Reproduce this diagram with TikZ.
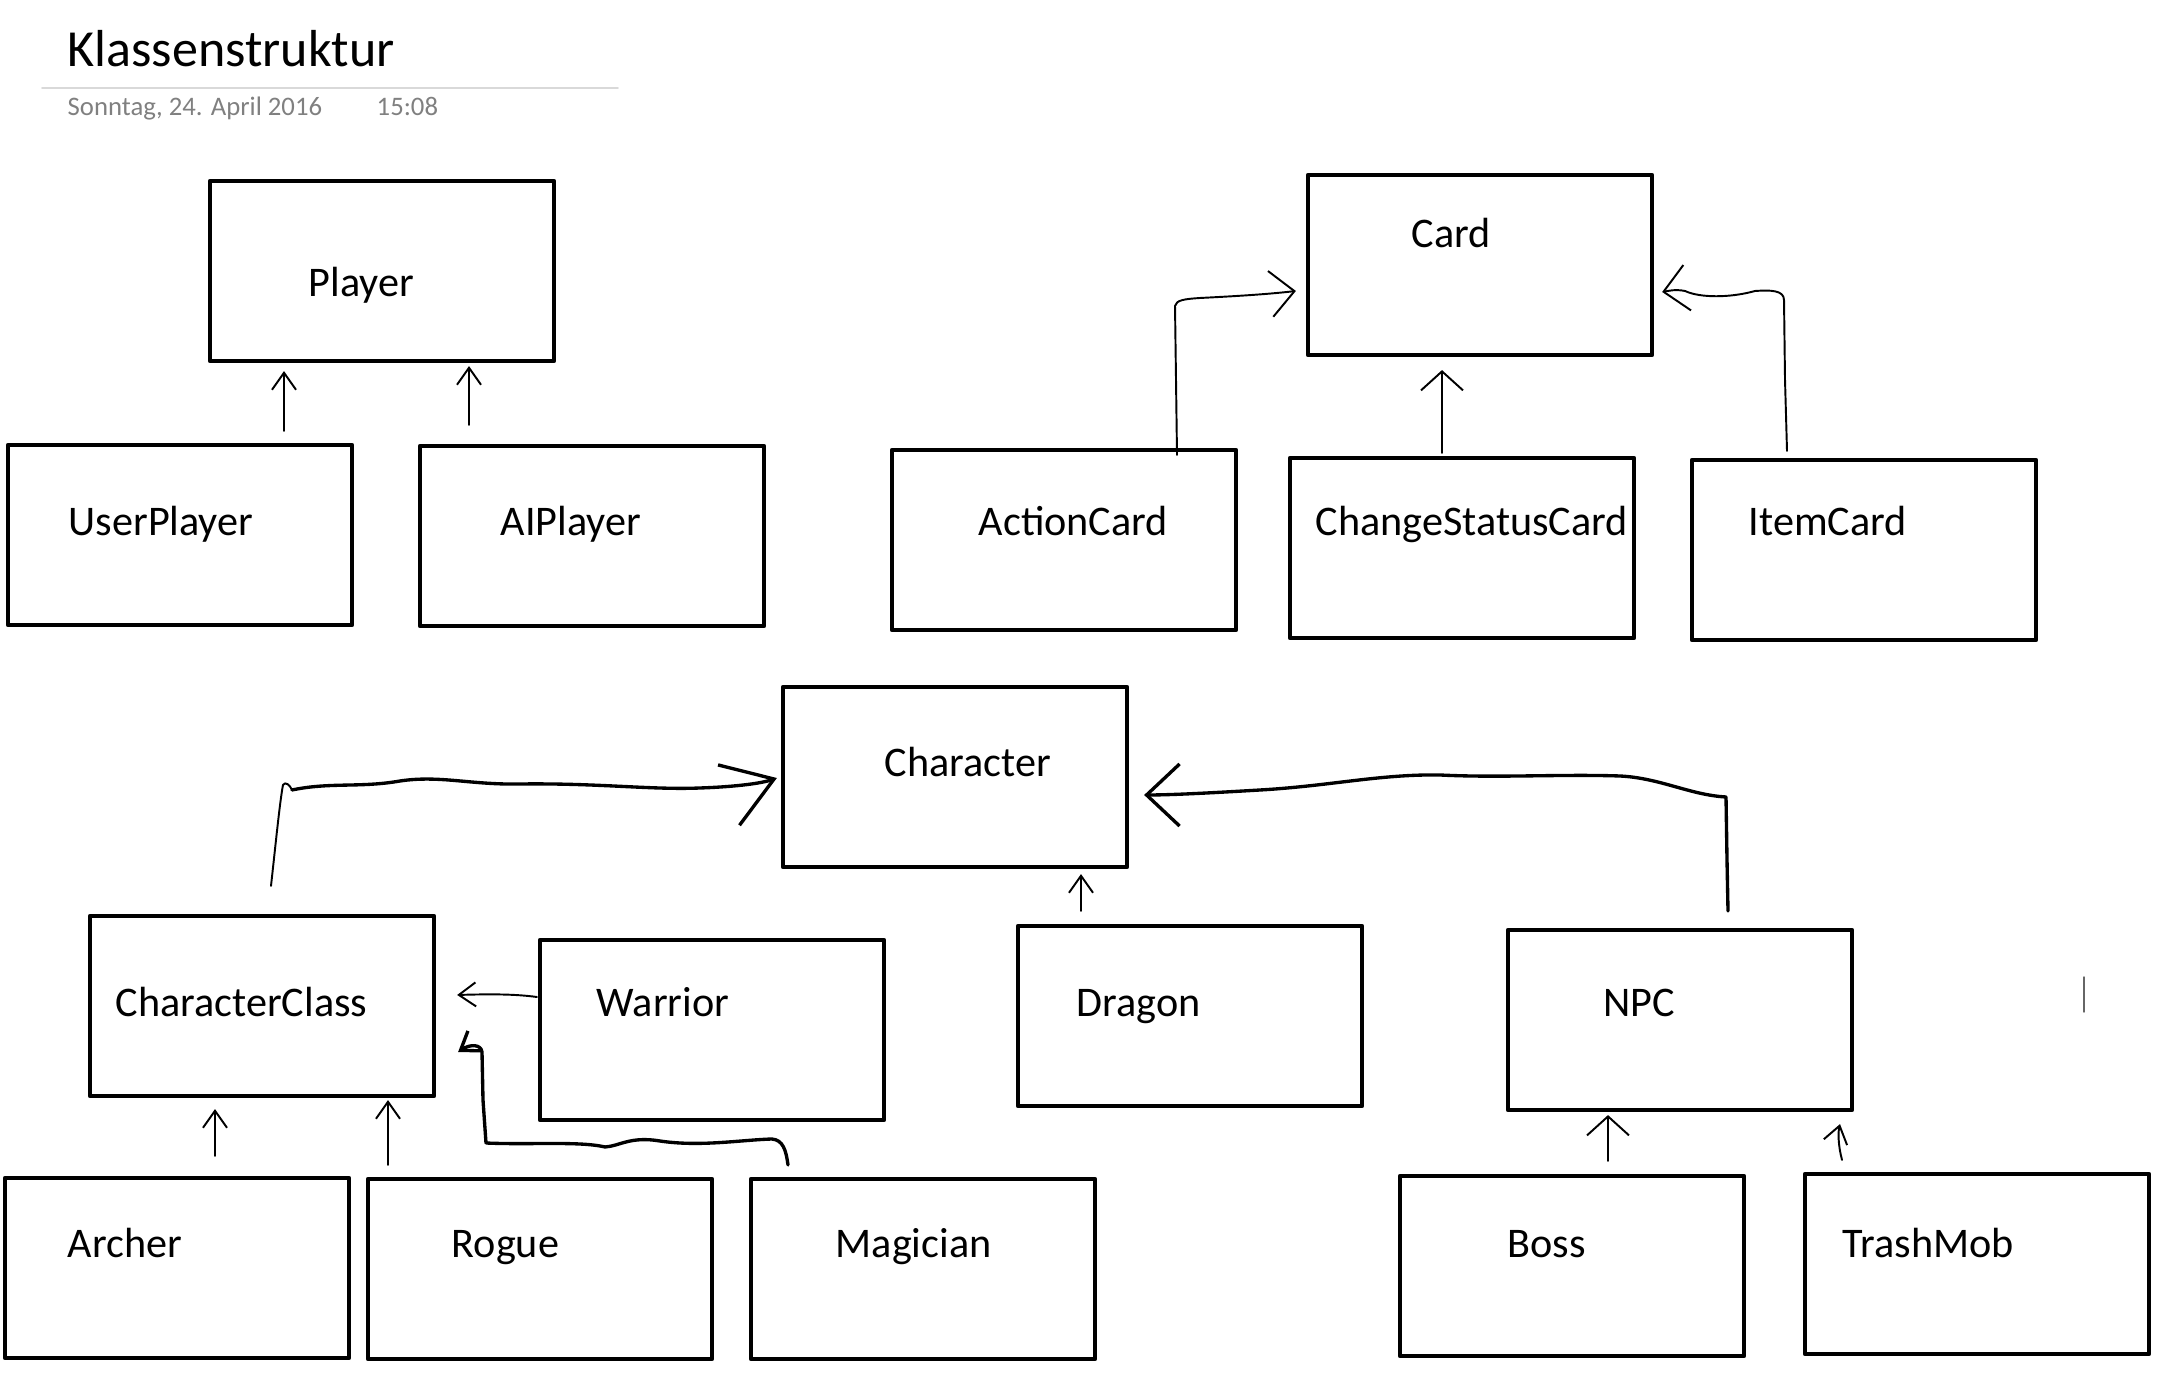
\documentclass[tikz,border=0pt]{standalone}
\usepackage{fontspec}
\setmainfont{Carlito}
\usetikzlibrary{%
  arrows.meta,%
  calc,%
  positioning%
}

\begin{document}
\begin{tikzpicture}[
  x=0.01cm, y=-0.01cm,
  line cap=round, line join=round,
  klasse/.style={draw, line width=1.15pt, minimum width=3.44cm, minimum height=1.8cm, inner sep=0pt},
  klname/.style={anchor=base west, inner sep=0pt, font=\fontsize{12}{14}\selectfont},
  datum/.style={anchor=base west, inner sep=0pt, text=black!50, font=\fontsize{7.6}{9}\selectfont},
  duenn/.style={line width=0.55pt},
  dick/.style={line width=0.95pt},
  sklein/.style={-{Straight Barb[length=1.7mm,width=2.4mm]}},
  smittel/.style={-{Straight Barb[length=1.9mm,width=4.2mm]}},
  sgross/.style={-{Straight Barb[length=2.4mm,width=4.6mm]}},
]
\useasboundingbox (0,0) rectangle (2182,1380);

% Kopf
\node[anchor=base west, inner sep=0pt, font=\fontsize{14.8}{17}\selectfont] (titel) at (67,67) {Klassenstruktur};
\draw[line width=0.5pt, black!15] (42,88) -- (618,88);
\node[datum] (datum) at (67,116) {Sonntag, 24. April 2016};
\node[datum] (zeit) at (376,116) {15:08};

% Player
\node[klasse] (player) at (382,271) {};
\node[klasse] (userplayer) at (180,535) {};
\node[klasse] (aiplayer) at (592,536) {};
\node[klname] (player-t) at (308,297) {Player};
\node[klname] (userplayer-t) at (68,536) {UserPlayer};
\node[klname] (aiplayer-t) at (500,536) {AIPlayer};

% Card
\node[klasse] (card) at (1480,265) {};
\node[klasse] (actioncard) at (1064,540) {};
\node[klasse] (statuscard) at (1462,548) {};
\node[klasse] (itemcard) at (1864,550) {};
\node[klname] (card-t) at (1411,248) {Card};
\node[klname] (actioncard-t) at (978,536) {ActionCard};
\node[klname] (statuscard-t) at (1315,536) {ChangeStatusCard};
\node[klname] (itemcard-t) at (1748,536) {ItemCard};

% Character
\node[klasse] (character) at (955,777) {};
\node[klasse] (charclass) at (262,1006) {};
\node[klasse] (warrior) at (712,1030) {};
\node[klasse] (dragon) at (1190,1016) {};
\node[klasse] (npc) at (1680,1020) {};
\node[klasse] (archer) at (177,1268) {};
\node[klasse] (rogue) at (540,1269) {};
\node[klasse] (magician) at (923,1269) {};
\node[klasse] (boss) at (1572,1266) {};
\node[klasse] (trashmob) at (1977,1264) {};
\node[klname] (character-t) at (884,777) {Character};
\node[klname] (charclass-t) at (115,1017) {CharacterClass};
\node[klname] (warrior-t) at (596,1017) {Warrior};
\node[klname] (dragon-t) at (1076,1017) {Dragon};
\node[klname] (npc-t) at (1603,1017) {NPC};
\node[klname] (archer-t) at (67,1257) {Archer};
\node[klname] (rogue-t) at (451,1257) {Rogue};
\node[klname] (magician-t) at (835,1257) {Magician};
\node[klname] (boss-t) at (1507,1257) {Boss};
\node[klname] (trashmob-t) at (1842,1257) {TrashMob};

% Pfeile Player
\draw[duenn, sklein] ($(userplayer.north)+(104,-12)$) -- ($(player.south)+(-98,8)$);
\draw[duenn, sklein] ($(aiplayer.north)+(-123,-19)$) -- ($(player.south)+(87,3)$);

% Pfeile Card
\draw[duenn, sgross] ($(actioncard.north)+(113,7)$) -- (1176,380) -- (1175,306)
  .. controls (1176,300) and (1185,299) .. (1200,298)
  .. controls (1240,296) and (1270,294) .. ($(card.west)+(-10,26)$);
\draw[duenn, smittel] ($(statuscard.north)+(-20,-3)$) -- ($(card.south)+(-38,13)$);
\draw[duenn, sgross] ($(itemcard.north)+(-77,-7)$) -- (1785,380) -- (1784,300)
  .. controls (1784,290) and (1770,290) .. (1755,291)
  .. controls (1730,298) and (1700,298) .. (1685,291)
  .. controls (1675,289) and (1668,291) .. ($(card.east)+(8,27)$);

% Pfeile Character
\coordinate (cc-knick) at (292,790);
\draw[duenn] ($(charclass.north)+(9,-28)$) .. controls (275,850) and (280,800) .. (283,785)
  .. controls (285,781) and (290,785) .. (cc-knick);
\draw[dick, -{Straight Barb[length=4.8mm,width=6.4mm]}] (cc-knick)
  .. controls (330,782) and (360,788) .. (400,781)
  .. controls (440,775) and (470,785) .. (520,784)
  .. controls (600,783) and (650,790) .. (700,788)
  .. controls (730,787) and (760,784) .. ($(character.west)+(-4,1)$);
\draw[dick, -{Straight Barb[length=3.3mm,width=6.2mm]}] ($(npc.north)+(48,-17)$) -- (1727,860) -- (1726,797)
  .. controls (1690,795) and (1660,778) .. (1620,776)
  .. controls (1560,774) and (1500,778) .. (1440,775)
  .. controls (1380,774) and (1330,786) .. (1260,790)
  .. controls (1210,793) and (1170,795) .. ($(character.east)+(15,18)$);
\draw[duenn, sklein] ($(dragon.north)+(-109,-13)$) -- ($(character.south)+(126,5)$);

% Pfeile CharacterClass
\draw[duenn, sklein] ($(warrior.west)+(-1,-33)$) .. controls (515,994) and (490,994) .. ($(charclass.east)+(21,-11)$);
\draw[dick, sklein] ($(magician.north)+(-135,-12)$) .. controls (786,1150) and (783,1140) .. (772,1139)
  .. controls (740,1140) and (700,1147) .. (660,1141)
  .. controls (630,1136) and (620,1146) .. (605,1147)
  .. controls (580,1141) and (530,1145) .. (486,1143)
  -- (483,1100) -- (482,1052)
  .. controls (481,1044) and (470,1044) .. ($(charclass.east)+(22,46)$);
\draw[duenn, sklein] ($(archer.north)+(38,-20)$) -- ($(charclass.south)+(-47,11)$);
\draw[duenn, sklein] ($(rogue.north)+(-152,-12)$) -- ($(charclass.south)+(126,2)$);

% Pfeile NPC
\draw[duenn, smittel] ($(boss.north)+(36,-13)$) -- ($(npc.south)+(-72,3)$);
\draw[duenn, sklein] ($(trashmob.north)+(-135,-12)$) .. controls (1838,1145) and (1838,1132) .. ($(npc.south)+(160,12)$);

\draw[line width=0.4pt, black!60] (2084,977) -- (2084,1012);
\end{tikzpicture}
\end{document}
